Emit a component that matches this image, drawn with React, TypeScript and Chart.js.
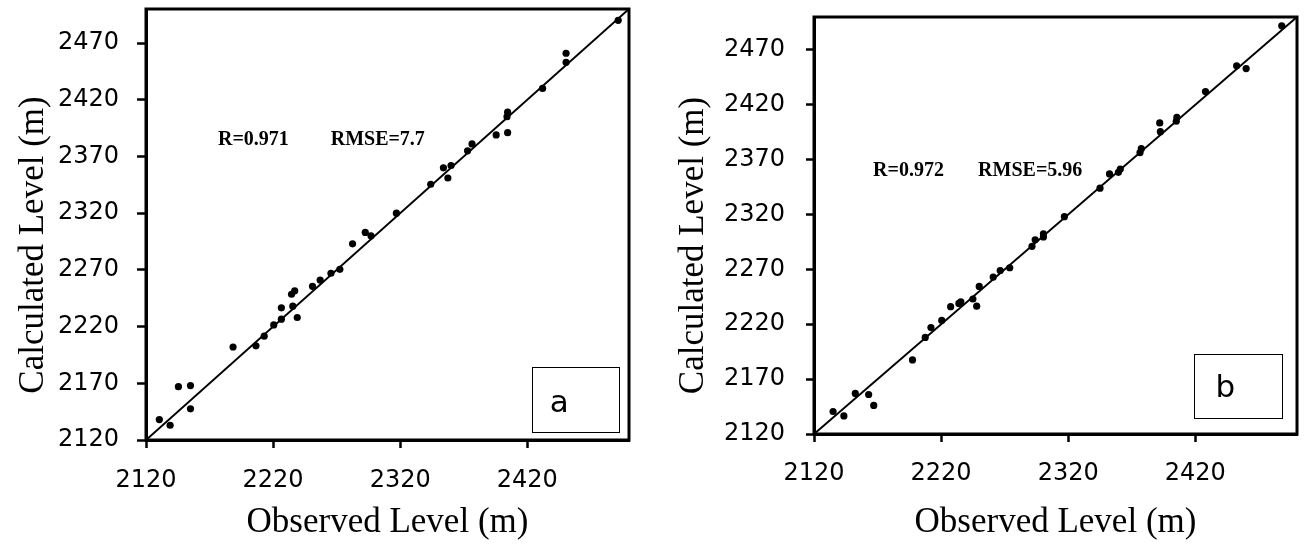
import React, { useEffect, useRef } from 'react';
import { Chart, registerables } from 'chart.js';

Chart.register(...registerables);

// ---- data ----
const xTicks = [2120, 2220, 2320, 2420];
const yTicks = [2120, 2170, 2220, 2270, 2320, 2370, 2420, 2470];
const axisMin = 2120;
const axisMax = 2500;
const lineValues = [2120, 2500];

const observedA = [
  2130.5, 2139, 2145.5, 2155, 2155, 2188.5, 2206.5, 2213, 2220.5, 2226.5, 2226.5, 2235.5, 2239,
  2234.5, 2237, 2251, 2257, 2265.5, 2272.5, 2282.5, 2292.5, 2297, 2317, 2344, 2354, 2360, 2357.5,
  2373, 2376.5, 2395.5, 2404.5, 2404, 2404.5, 2432, 2450.5, 2450.5, 2491.5,
];
const calculatedA = [
  2138, 2133, 2167, 2168, 2147.5, 2202, 2203, 2211.5, 2221.5, 2226.5, 2236.5, 2238, 2228,
  2248.5, 2251.5, 2255.5, 2261, 2267, 2270.5, 2293, 2303, 2300, 2320, 2345.5, 2360, 2362, 2351,
  2375, 2381, 2389, 2409, 2405, 2391, 2430, 2461, 2453, 2490,
];

const observedB = [
  2135, 2143.5, 2152.5, 2163, 2167, 2197.5, 2207.5, 2212, 2220.5, 2227.5, 2234, 2235.5, 2245,
  2248, 2250, 2261, 2266.5, 2274, 2291.5, 2294, 2300.5, 2300.5, 2317, 2345, 2352.5, 2359.5, 2361,
  2376.5, 2377.5, 2392, 2392.5, 2405, 2405.5, 2428, 2452.5, 2460, 2488,
];
const calculatedB = [
  2140.5, 2136.5, 2157, 2156, 2146, 2187.5, 2208, 2217, 2223.5, 2236, 2239, 2240.5, 2243,
  2236.5, 2254.5, 2263, 2269, 2271.5, 2291, 2297, 2299.5, 2302.5, 2318, 2344, 2357, 2358.5, 2361.5,
  2376.5, 2380, 2403.5, 2395.5, 2405, 2408.5, 2432, 2455.5, 2453, 2492,
];

const xTitle = 'Observed Level (m)';
const yTitle = 'Calculated Level (m)';
const statsA = ['R=0.971', 'RMSE=7.7'];
const statsB = ['R=0.972', 'RMSE=5.96'];
const panelLetterA = 'a';
const panelLetterB = 'b';

type Panel = {
  left: number;
  width: number;
  yAxisWidth: number;
  xAxisHeight: number;
  padTop: number;
  padRight: number;
  yTickPad: number;
  yTickLen: number;
  xTickPad: number;
  yTitleX: number;
  yTitleY: number;
  statY: number;
  statX: [number, number];
  box: [number, number, number, number];
  letterPos: [number, number];
  observed: number[];
  calculated: number[];
  stats: string[];
  letter: string;
};

const panels: Panel[] = [
  {
    left: 0, width: 654, yAxisWidth: 146, xAxisHeight: 107, padTop: 9, padRight: 25,
    yTickPad: 18, yTickLen: 9, xTickPad: 18, yTitleX: 43, yTitleY: 245,
    statY: 2380, statX: [2176.6, 2265.3],
    box: [2423.8, 2492.4, 2127, 2184.4], letterPos: [2445.2, 2145],
    observed: observedA, calculated: calculatedA, stats: statsA, letter: panelLetterA,
  },
  {
    left: 654, width: 654, yAxisWidth: 160, xAxisHeight: 113, padTop: 17, padRight: 11,
    yTickPad: 21, yTickLen: 8, xTickPad: 17, yTitleX: 49, yTitleY: 245.5,
    statY: 2355.5, statX: [2166.5, 2249.1],
    box: [2419.2, 2488.5, 2134.5, 2192.7], letterPos: [2443.6, 2153.4],
    observed: observedB, calculated: calculatedB, stats: statsB, letter: panelLetterB,
  },
];

const H = 547;

function ScatterPanel({ p }: { p: Panel }) {
  const ref = useRef<HTMLCanvasElement | null>(null);
  useEffect(() => {
    if (!ref.current) return;
    const decor = {
      id: 'decor',
      afterDraw(chart: any) {
        const { ctx, chartArea, scales } = chart;
        const xs = scales.x;
        const ys = scales.y;
        ctx.save();
        // frame
        ctx.strokeStyle = '#000';
        ctx.lineWidth = 3;
        ctx.strokeRect(chartArea.left, chartArea.top, chartArea.right - chartArea.left, chartArea.bottom - chartArea.top);
        // stats text
        ctx.fillStyle = '#000';
        ctx.font = 'bold 20px "Liberation Serif"';
        ctx.textAlign = 'left';
        ctx.textBaseline = 'alphabetic';
        ctx.fillText(p.stats[0], xs.getPixelForValue(p.statX[0]), ys.getPixelForValue(p.statY));
        ctx.fillText(p.stats[1], xs.getPixelForValue(p.statX[1]), ys.getPixelForValue(p.statY));
        // panel letter box
        const bx0 = xs.getPixelForValue(p.box[0]);
        const bx1 = xs.getPixelForValue(p.box[1]);
        const by0 = ys.getPixelForValue(p.box[3]);
        const by1 = ys.getPixelForValue(p.box[2]);
        ctx.fillStyle = '#fff';
        ctx.fillRect(bx0, by0, bx1 - bx0, by1 - by0);
        ctx.lineWidth = 1;
        ctx.strokeStyle = '#000';
        ctx.strokeRect(Math.round(bx0) + 0.5, Math.round(by0) + 0.5, Math.round(bx1 - bx0), Math.round(by1 - by0));
        ctx.fillStyle = '#000';
        ctx.font = '31px "DejaVu Sans"';
        ctx.textAlign = 'center';
        ctx.fillText(p.letter, xs.getPixelForValue(p.letterPos[0]), ys.getPixelForValue(p.letterPos[1]));
        // y title
        ctx.translate(p.yTitleX, p.yTitleY);
        ctx.rotate(-Math.PI / 2);
        ctx.font = '35px "Liberation Serif"';
        ctx.textAlign = 'center';
        ctx.textBaseline = 'alphabetic';
        ctx.fillText(yTitle, 0, 0);
        ctx.restore();
      },
    };
    const chart = new Chart(ref.current, {
      type: 'scatter',
      data: {
        datasets: [
          {
            type: 'line',
            data: lineValues.map((v) => ({ x: v, y: v })),
            borderColor: '#000',
            borderWidth: 2,
            pointRadius: 0,
            fill: false,
          } as any,
          {
            type: 'scatter',
            data: p.observed.map((v, i) => ({ x: v, y: p.calculated[i] })),
            backgroundColor: '#000',
            borderColor: '#000',
            borderWidth: 0,
            pointRadius: 3.6,
          },
        ],
      },
      options: {
        responsive: false,
        animation: false,
        events: [],
        layout: { padding: { top: p.padTop, right: p.padRight, left: 0, bottom: 0 } },
        plugins: { legend: { display: false }, tooltip: { enabled: false } },
        scales: {
          x: {
            type: 'linear',
            min: axisMin,
            max: axisMax,
            afterBuildTicks: (s: any) => { s.ticks = xTicks.map((v) => ({ value: v })); },
            afterFit: (s: any) => { s.height = p.xAxisHeight; s.paddingLeft = 0; s.paddingRight = 0; },
            grid: { display: true, drawOnChartArea: false, drawTicks: true, tickLength: 8, tickWidth: 2.5, tickColor: '#000' },
            border: { display: true, color: '#000', width: 3 },
            ticks: {
              padding: p.xTickPad,
              color: '#000',
              font: { family: '"DejaVu Sans"', size: 24 },
              maxRotation: 0,
              callback: (v: any) => String(v),
            },
            title: {
              display: true,
              text: xTitle,
              color: '#000',
              font: { family: '"Liberation Serif"', size: 35 },
              padding: { top: 0, bottom: 3 },
            },
          },
          y: {
            type: 'linear',
            min: axisMin,
            max: axisMax,
            afterBuildTicks: (s: any) => { s.ticks = yTicks.map((v) => ({ value: v })); },
            afterFit: (s: any) => { s.width = p.yAxisWidth; s.paddingTop = 0; s.paddingBottom = 0; },
            grid: { display: true, drawOnChartArea: false, drawTicks: true, tickLength: p.yTickLen, tickWidth: 2.5, tickColor: '#000' },
            border: { display: true, color: '#000', width: 3 },
            ticks: {
              padding: p.yTickPad,
              color: '#000',
              font: { family: '"DejaVu Sans"', size: 24 },
              callback: (v: any) => String(v),
            },
          },
        },
      },
      plugins: [decor],
    });
    return () => chart.destroy();
  }, [p]);
  return (
    <div style={{ position: 'absolute', left: p.left, top: 0, width: p.width, height: H }}>
      <canvas ref={ref} width={p.width} height={H} style={{ display: 'block' }} />
    </div>
  );
}

export default function App() {
  return (
    <div style={{ position: 'absolute', left: 0, top: 0, width: 1308, height: H, background: '#fff' }}>
      {panels.map((p, i) => (
        <ScatterPanel key={i} p={p} />
      ))}
    </div>
  );
}
